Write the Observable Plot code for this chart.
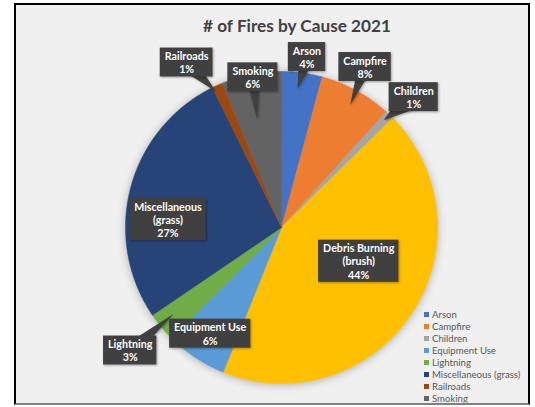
<!DOCTYPE html>
<html><head><meta charset="utf-8">
<script src="https://cdn.jsdelivr.net/npm/d3@7"></script>
<script src="https://cdn.jsdelivr.net/npm/@observablehq/plot@0.6"></script>
<style>
html,body{margin:0;padding:0;background:#fff;}
#frame{position:absolute;left:14px;top:3px;width:512px;height:398px;background:#f0f0f0;border:2px solid #000;border-bottom-color:#808080;overflow:hidden;font-family:Lato,"Noto Sans",sans-serif;}
#title{position:absolute;left:281px;top:10.5px;transform:translateX(-50%);white-space:nowrap;font-size:17.2px;line-height:20px;font-weight:bold;color:#404040;}
#chart{position:absolute;left:0;top:0;}
#legend{position:absolute;left:408px;top:303px;font-size:9.6px;color:#595959;}
#legend .row{height:12.1px;display:flex;align-items:center;white-space:nowrap;}
#legend .sw{width:5px;height:5px;margin-right:3px;flex:none;}
</style></head>
<body>
<div id="frame">
  <div id="chart"></div>
  <div id="title"># of Fires by Cause 2021</div>
  <div id="legend"></div>
</div>
<script>
// ---- data ----
const causes = ["Arson","Campfire","Children","Debris Burning (brush)","Equipment Use","Lightning","Miscellaneous (grass)","Railroads","Smoking"];
const shares = [4.2,7.5,0.9,43.5,6.3,3.1,27.2,1.1,6.2];
const colors = ["#4472C4","#ED7D31","#A5A5A5","#FFC000","#5B9BD5","#70AD47","#264478","#9E480E","#636363"];
const legendCauses = ["Arson","Campfire","Children","Equipment Use","Lightning","Miscellaneous (grass)","Railroads","Smoking"];

// ---- callout layout (polar: radius in pie radii, angle in degrees clockwise from 12 o'clock) ----
const boxR = [1.105,1.16,1.19,0.54,0.82,1.25,0.73,1.22,0.98];
const boxA = [8.5,27.5,45.4,113.6,213.9,230.9,274,330.1,349.2];
const tipR = [0.897,0.90,0.95,null,null,0.885,null,0.97,0.71];
const tipA = [6.6,29.3,43.6,null,null,231.3,null,334.2,347.4];

// ---- geometry ----
const W = 512, H = 398, CX = 265, CY = 222, R = 156;
const FONT_SIZE = 10.7, LINE_PX = 13.2;
const total = d3.sum(shares);
const data = causes.map((c,i)=>({cause:c, share:shares[i], i}));
const arcs = d3.pie().sort(null).value(d=>d.share)(data);

const slicePts = [];
arcs.forEach(p=>{
  const c = p.data.cause;
  const n = Math.max(2, Math.ceil((p.endAngle-p.startAngle)/(Math.PI/360)));
  slicePts.push({cause:c, x:0, y:0});
  for(let k=0;k<=n;k++){
    const a = p.startAngle + (p.endAngle-p.startAngle)*k/n;
    slicePts.push({cause:c, x:Math.sin(a), y:Math.cos(a)});
  }
});

const ctx = document.createElement("canvas").getContext("2d");
ctx.font = `bold ${FONT_SIZE}px Lato`;
const toData = (px,py)=>({x:(px-CX)/R, y:(CY-py)/R});
const rad = d=>d*Math.PI/180;

const boxes = [], tris = [];
data.forEach((d,i)=>{
  const pct = Math.round(d.share/total*100);
  const label = d.cause.replace(" (", "\n(") + "\n" + pct + "%";
  const lines = label.split("\n");
  const tw = d3.max(lines, l=>ctx.measureText(l).width);
  const bw = tw + 9, bh = lines.length*LINE_PX + 2.5;
  const bx = CX + R*boxR[i]*Math.sin(rad(boxA[i]));
  const by = CY - R*boxR[i]*Math.cos(rad(boxA[i]));
  const c = toData(bx,by);
  boxes.push({label, x:c.x, y:c.y, x1:c.x-bw/2/R, x2:c.x+bw/2/R, y1:c.y-bh/2/R, y2:c.y+bh/2/R});
  if (tipR[i] != null){
    const tx = CX + R*tipR[i]*Math.sin(rad(tipA[i]));
    const ty = CY - R*tipR[i]*Math.cos(rad(tipA[i]));
    const L = Math.hypot(tx-bx, ty-by);
    const ux = (tx-bx)/L, uy = (ty-by)/L;
    const de = Math.min(bw/2/Math.abs(ux||1e-9), bh/2/Math.abs(uy||1e-9));
    if (L - de > 3){
      const w = 4.5*L/(L-de);
      const px = -uy, py = ux;
      [[bx+px*w,by+py*w],[bx-px*w,by-py*w],[tx,ty]].forEach(([a,b])=>{
        const q = toData(a,b); tris.push({id:d.cause, x:q.x, y:q.y});
      });
    }
  }
});

const chart = Plot.plot({
  width: W, height: H, margin: 0,
  x: {domain:[-CX/R,(W-CX)/R], range:[0,W], axis:null},
  y: {domain:[-(H-CY)/R, CY/R], range:[H,0], axis:null},
  color: {domain: causes, range: colors},
  style: {background:"transparent", fontFamily:"Lato, 'Noto Sans', sans-serif", overflow:"visible"},
  marks: [
    Plot.line(slicePts, {x:"x", y:"y", z:"cause", fill:"cause", stroke:"cause", strokeWidth:0.5, curve:"linear-closed"}),
    Plot.line(tris, {x:"x", y:"y", z:"id", fill:"#404040", stroke:"none", curve:"linear-closed"}),
    Plot.rect(boxes, {x1:"x1", x2:"x2", y1:"y1", y2:"y2", fill:"#404040"}),
    Plot.text(boxes, {x:"x", y:"y", text:"label", fill:"white", fontWeight:"bold", fontSize:FONT_SIZE, lineHeight:LINE_PX/FONT_SIZE})
  ]
});
document.getElementById("chart").appendChild(chart);
const groups = chart.querySelectorAll(":scope > g");
const filters = ["drop-shadow(0px 1px 4px rgba(0,0,0,0.28))","drop-shadow(1px 1px 1px rgba(0,0,0,0.3))","drop-shadow(1.5px 1.5px 1.2px rgba(0,0,0,0.35))",null];
groups.forEach((g,k)=>{ if (filters[k]) g.style.filter = filters[k]; });

const leg = document.getElementById("legend");
legendCauses.forEach(c=>{
  const row = document.createElement("div"); row.className = "row";
  const sw = document.createElement("span"); sw.className = "sw";
  sw.style.background = colors[causes.indexOf(c)];
  const t = document.createElement("span"); t.textContent = c;
  row.appendChild(sw); row.appendChild(t); leg.appendChild(row);
});
</script>
</body></html>
